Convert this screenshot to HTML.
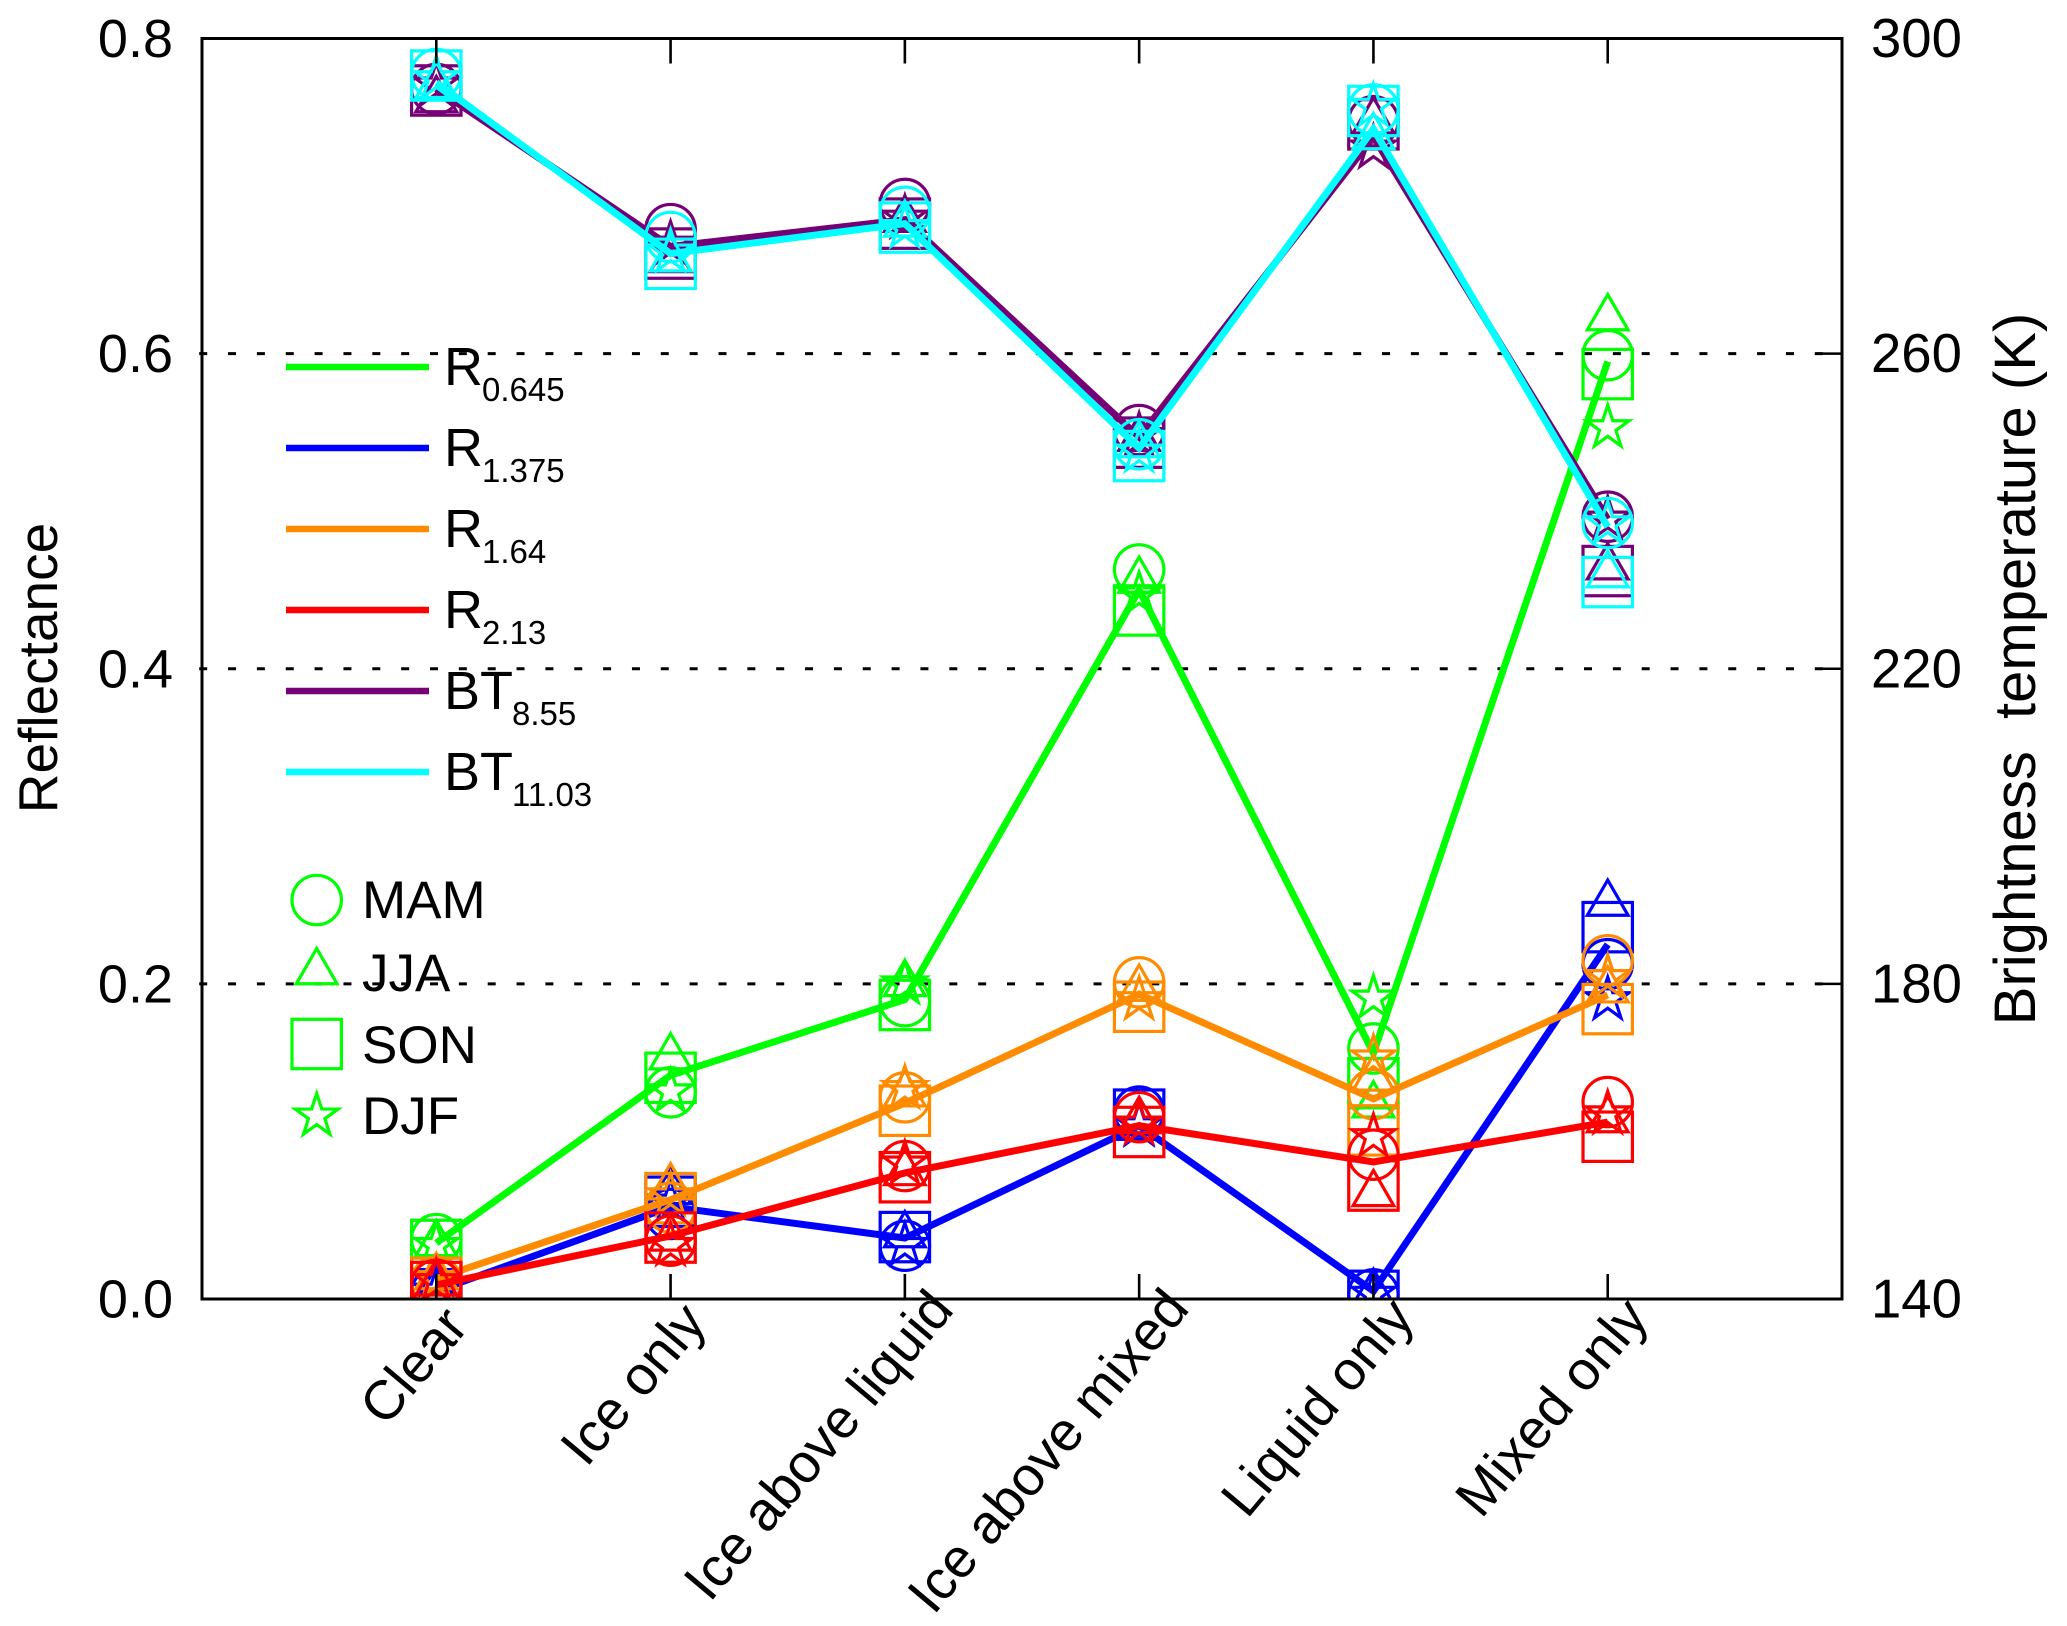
<!DOCTYPE html>
<html lang="en">
<head>
<meta charset="utf-8">
<title>Reflectance and brightness temperature by cloud scene</title>
<style>
html,body{margin:0;padding:0;background:#fff}
svg{display:block;font-family:"Liberation Sans",Arial,sans-serif;fill:#000}
</style>
</head>
<body>
<svg id="chart" xmlns="http://www.w3.org/2000/svg" width="2067" height="1626" viewBox="0 0 2067 1626">
<defs><clipPath id="plot-clip"><rect x="202" y="38.5" width="1640" height="1260.5"/></clipPath></defs>
<rect width="2067" height="1626" fill="#fff"/>
<g id="grid"></g>
<g id="marks" clip-path="url(#plot-clip)"></g>
<g id="axes"></g>
<g id="legend"></g>
<text transform="translate(57,668) rotate(-90)" text-anchor="middle" font-size="55">Reflectance</text>
<text transform="translate(2035,669) rotate(-90)" text-anchor="middle" font-size="58" xml:space="preserve">Brightness  temperature (K)</text>
</svg>
<script>
const categories = ["Clear", "Ice only", "Ice above liquid", "Ice above mixed", "Liquid only", "Mixed only"];
const leftTicks = [0.0, 0.2, 0.4, 0.6, 0.8];
const leftTickLabels = ["0.0", "0.2", "0.4", "0.6", "0.8"];
const rightTicks = [140, 180, 220, 260, 300];
const gridTicks = [0.2, 0.4, 0.6];

const r0645Line = [0.0355, 0.142, 0.19, 0.45, 0.156, 0.595];
const r0645Mam = [0.038, 0.1312, 0.189, 0.463, 0.159, 0.599];
const r0645Jja = [0.035, 0.1535, 0.2, 0.456, 0.123, 0.6226];
const r0645Son = [0.0343, 0.1404, 0.1866, 0.437, 0.137, 0.587];
const r0645Djf = [0.034, 0.1315, 0.2, 0.447, 0.191, 0.553];

const r1375Line = [0.005, 0.0585, 0.0387, 0.11, 0.005, 0.225];
const r1375Mam = [0.004, 0.054, 0.0338, 0.119, 0.003, 0.2125];
const r1375Jja = [0.006, 0.068, 0.0406, 0.113, 0.004, 0.251];
const r1375Son = [0.003, 0.0617, 0.0393, 0.117, 0.002, 0.236];
const r1375Djf = [0.005, 0.0615, 0.034, 0.11, 0.003, 0.19];

const r164Line = [0.013, 0.063, 0.1243, 0.1935, 0.127, 0.193];
const r164Mam = [0.011, 0.058, 0.128, 0.201, 0.13, 0.215];
const r164Jja = [0.014, 0.071, 0.13, 0.197, 0.14, 0.196];
const r164Son = [0.0103, 0.064, 0.1195, 0.1855, 0.107, 0.184];
const r164Djf = [0.013, 0.0655, 0.1336, 0.19, 0.153, 0.204];

const r213Line = [0.009, 0.04, 0.08, 0.11, 0.087, 0.1123];
const r213Mam = [0.009, 0.037, 0.0844, 0.1154, 0.0916, 0.125];
const r213Jja = [0.01, 0.0385, 0.08, 0.113, 0.0667, 0.1136];
const r213Son = [0.0076, 0.039, 0.0773, 0.106, 0.072, 0.103];
const r213Djf = [0.011, 0.034, 0.0857, 0.111, 0.103, 0.1175];

const bt855Line = [293.6, 273.6, 277, 249.4, 287.5, 239];
const bt855Mam = [293.6, 275.8, 279, 250.3, 289.5, 239.3];
const bt855Jja = [292.2, 271.9, 277, 249.2, 289.5, 232.9];
const bt855Son = [293.4, 272.7, 276.5, 248.7, 289.1, 232.4];
const bt855Djf = [294.1, 273.9, 277.2, 249.6, 286.1, 239];

const bt1103Line = [294.4, 272.7, 276.5, 248, 288.5, 238];
const bt1103Mam = [295.5, 274.8, 278, 248.5, 291, 238.5];
const bt1103Jja = [294, 272, 276.4, 248.4, 287.5, 231.9];
const bt1103Son = [295.3, 271.4, 276, 247, 290.8, 231];
const bt1103Djf = [294.9, 272.9, 276, 247.5, 291.4, 238.4];

const seasons = ["MAM", "JJA", "SON", "DJF"];
const bandNames = ["R", "R", "R", "R", "BT", "BT"];
const bandSubs = ["0.645", "1.375", "1.64", "2.13", "8.55", "11.03"];
const bandColors = ["#00ff00", "#0000ff", "#ff8c00", "#ff0000", "#760076", "#00ffff"];
const bandLines = [r0645Line, r1375Line, r164Line, r213Line, bt855Line, bt1103Line];
const bandSeasons = [
  [r0645Mam, r0645Jja, r0645Son, r0645Djf],
  [r1375Mam, r1375Jja, r1375Son, r1375Djf],
  [r164Mam, r164Jja, r164Son, r164Djf],
  [r213Mam, r213Jja, r213Son, r213Djf],
  [bt855Mam, bt855Jja, bt855Son, bt855Djf],
  [bt1103Mam, bt1103Jja, bt1103Son, bt1103Djf]
];
const bandUsesRightAxis = [false, false, false, false, true, true];

const NS = "http://www.w3.org/2000/svg";
const PLOT = {left: 202, right: 1842, top: 38.5, bottom: 1299};
const xScale = i => PLOT.left + (i + 1) * (PLOT.right - PLOT.left) / 7;
const yLeft = v => PLOT.bottom - (v / 0.8) * (PLOT.bottom - PLOT.top);
const yRight = k => PLOT.bottom - ((k - 140) / 160) * (PLOT.bottom - PLOT.top);

function make(tag, parent, attrs) {
  const e = document.createElementNS(NS, tag);
  for (const k in attrs) e.setAttribute(k, attrs[k]);
  parent.appendChild(e);
  return e;
}
function polyPoints(cx, cy, radii, n, start) {
  const pts = [];
  for (let i = 0; i < n; i++) {
    const a = start + i * 2 * Math.PI / n;
    const r = radii[i % radii.length];
    pts.push((cx + r * Math.cos(a)).toFixed(2) + "," + (cy + r * Math.sin(a)).toFixed(2));
  }
  return pts.join(" ");
}
function drawMarker(parent, season, cx, cy, color) {
  const style = {fill: "none", stroke: color, "stroke-width": 3.2};
  if (season === 0) return make("circle", parent, Object.assign({cx: cx, cy: cy, r: 24.7}, style));
  if (season === 1) return make("polygon", parent, Object.assign({points: polyPoints(cx, cy, [23.5], 3, -Math.PI / 2)}, style));
  if (season === 2) return make("rect", parent, Object.assign({x: cx - 24.7, y: cy - 24.7, width: 49.4, height: 49.4}, style));
  return make("polygon", parent, Object.assign({points: polyPoints(cx, cy, [22.5, 8.6], 10, -Math.PI / 2)}, style));
}

const grid = document.getElementById("grid");
const marks = document.getElementById("marks");
const axes = document.getElementById("axes");
const legend = document.getElementById("legend");

gridTicks.forEach(v => {
  const y = yLeft(v);
  const line = make("line", grid, {x1: 199.2, y1: y, x2: PLOT.right, y2: y, stroke: "#000", "stroke-width": 3, "stroke-dasharray": "8 20.85"});
  
  
});

bandLines.forEach((values, b) => {
  const yFn = bandUsesRightAxis[b] ? yRight : yLeft;
  const group = make("g", marks, {});
  
  
  const poly = make("polyline", group, {
    points: values.map((v, i) => xScale(i) + "," + yFn(v)).join(" "),
    fill: "none", stroke: bandColors[b], "stroke-width": 7, "stroke-linejoin": "miter"
  });
  
  
  bandSeasons[b].forEach((seasonValues, s) => {
    seasonValues.forEach((v, i) => {
      const m = drawMarker(group, s, xScale(i), yFn(v), bandColors[b]);
      
      
    });
  });
});

const frame = make("rect", axes, {x: PLOT.left, y: PLOT.top, width: PLOT.right - PLOT.left, height: PLOT.bottom - PLOT.top, fill: "none", stroke: "#000", "stroke-width": 3});



categories.forEach((name, i) => {
  const x = xScale(i);
  const bottomTick = make("line", axes, {x1: x, y1: PLOT.bottom, x2: x, y2: PLOT.bottom - 25, stroke: "#000", "stroke-width": 2.6});
  
  
  const topTick = make("line", axes, {x1: x, y1: PLOT.top, x2: x, y2: PLOT.top + 25, stroke: "#000", "stroke-width": 2.6});
  
  
  const label = make("text", axes, {"text-anchor": "middle", "font-size": 55});
  
  
  label.textContent = name;
  const lengthEm = label.getComputedTextLength() / 55;
  const labelX = x + 25 - 14 * lengthEm;
  const labelY = 1336 + 17.4 * lengthEm;
  label.setAttribute('transform', 'translate(' + labelX + ',' + labelY + ') rotate(-50)');
});

leftTicks.forEach((v, i) => {
  const label = make("text", axes, {x: 173, y: yLeft(v) + 18.5, "text-anchor": "end", "font-size": 54});
  
  
  label.textContent = leftTickLabels[i];
});

rightTicks.forEach(k => {
  const y = yRight(k);
  const tick = make("line", axes, {x1: PLOT.right, y1: y, x2: PLOT.right - 25, y2: y, stroke: "#000", "stroke-width": 2.6});
  
  
  const label = make("text", axes, {x: 1871, y: y + 18.5, "font-size": 54.5});
  
  
  label.textContent = String(k);
});

bandNames.forEach((name, b) => {
  const y = 367 + b * 81;
  const key = make("line", legend, {x1: 286, y1: y, x2: 429, y2: y, stroke: bandColors[b], "stroke-width": 6.5});
  
  
  const label = make("text", legend, {x: 444, y: y + 18, "font-size": 54});
  
  
  label.textContent = name;
  const sub = make("tspan", label, {dx: -1, dy: 16, "font-size": 33});
  sub.textContent = bandSubs[b];
});

const seasonRows = [900, 972, 1044, 1116];
const seasonBaselines = [918, 991, 1063, 1134];
seasons.forEach((name, s) => {
  const m = drawMarker(legend, s, 316.7, seasonRows[s], "#00ff00");
  
  
  const label = make("text", legend, {x: 362, y: seasonBaselines[s], "font-size": 53});
  
  
  label.textContent = name;
});
</script>
</body>
</html>
